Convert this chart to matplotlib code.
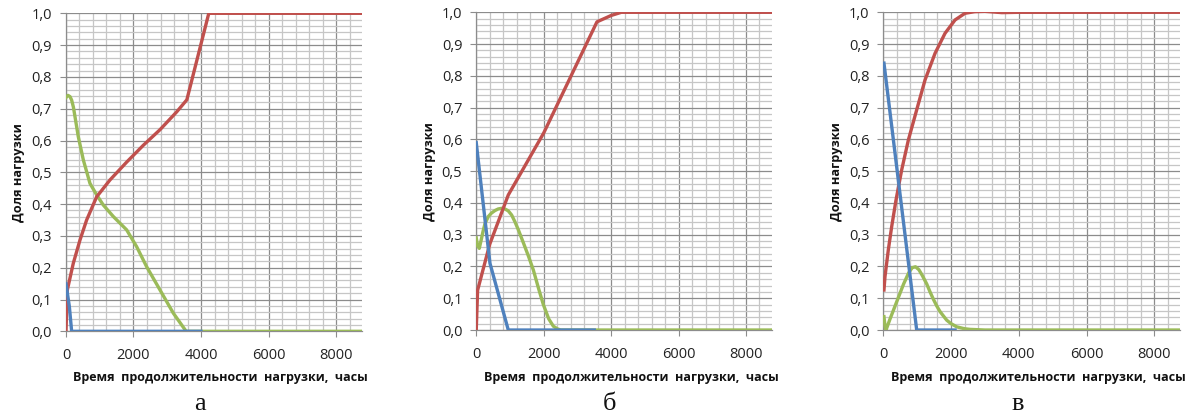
#!/usr/bin/env python3
"""Доля нагрузки vs время продолжительности нагрузки: три варианта (а, б, в)"""
import matplotlib
matplotlib.use("Agg")
import matplotlib.pyplot as plt
from matplotlib.ticker import MultipleLocator, FuncFormatter

plt.rcParams["font.family"] = ["Open Sans", "DejaVu Sans"]

RED = "#C0504D"
GREEN = "#9BBB59"
BLUE = "#4F81BD"

# --- panel а ---
red_a_x = [0, 40, 217, 415, 612, 909, 1304, 1797, 2291, 2785, 3279, 3580, 4230, 8760]
red_a_y = [0.0, 0.13, 0.214, 0.287, 0.35, 0.423, 0.476, 0.532, 0.585, 0.634, 0.69, 0.728, 1.0, 1.0]
green_a_x = [0, 60, 120, 168, 220, 267, 365, 514, 711, 909, 1106, 1402, 1797, 2094,
             2390, 2785, 3180, 3560, 8760]
green_a_y = [0.735, 0.742, 0.738, 0.727, 0.705, 0.675, 0.612, 0.539, 0.465, 0.429,
             0.397, 0.361, 0.319, 0.266, 0.203, 0.13, 0.057, 0.0, 0.0]
blue_a_x = [0, 100, 168, 4000]
blue_a_y = [0.15, 0.078, 0.0, 0.0]

# --- panel б ---
red_b_x = [0, 40, 400, 950, 2000, 3580, 4000, 4300, 8760]
red_b_y = [0.0, 0.125, 0.27, 0.425, 0.62, 0.97, 0.99, 1.0, 1.0]
green_b_x = [0, 40, 90, 150, 200, 260, 357, 450, 555, 650, 750, 850, 950, 1050, 1150,
             1250, 1396, 1550, 1693, 1850, 1990, 2150, 2287, 2400, 2500, 8760]
green_b_y = [0.29, 0.265, 0.257, 0.285, 0.31, 0.335, 0.357, 0.368, 0.376, 0.381, 0.383,
             0.381, 0.375, 0.362, 0.34, 0.315, 0.275, 0.232, 0.189, 0.13, 0.08, 0.035,
             0.012, 0.004, 0.0, 0.0]
blue_b_x = [0, 407, 950, 3500]
blue_b_y = [0.59, 0.21, 0.0, 0.0]

# --- panel в ---
red_c_x = [20, 50, 148, 247, 375, 543, 740, 986, 1232, 1528, 1823, 2119, 2414, 2700,
           3000, 3500, 4000, 8760]
red_c_y = [0.126, 0.168, 0.252, 0.325, 0.409, 0.504, 0.598, 0.693, 0.787, 0.871, 0.934,
           0.976, 0.997, 1.002, 1.003, 0.999, 1.0, 1.0]
green_c_x = [20, 50, 80, 200, 400, 600, 750, 850, 950, 1050, 1150, 1282, 1380, 1478,
             1577, 1675, 1872, 2000, 2168, 2400, 2562, 3000, 8760]
green_c_y = [0.042, 0.012, 0.0, 0.035, 0.09, 0.145, 0.18, 0.196, 0.199, 0.19, 0.172,
             0.145, 0.12, 0.097, 0.076, 0.058, 0.031, 0.02, 0.01, 0.004, 0.002, 0.0, 0.0]
blue_c_x = [20, 986, 2119]
blue_c_y = [0.84, 0.0, 0.0]

PANELS = [
    ("а", [0.0553, 0.2036, 0.2479, 0.7644],
     (red_a_x, red_a_y), (green_a_x, green_a_y), (blue_a_x, blue_a_y)),
    ("б", [0.3992, 0.2067, 0.2476, 0.7637],
     (red_b_x, red_b_y), (green_b_x, green_b_y), (blue_b_x, blue_b_y)),
    ("в", [0.7404, 0.2067, 0.2487, 0.7637],
     (red_c_x, red_c_y), (green_c_x, green_c_y), (blue_c_x, blue_c_y)),
]

fig = plt.figure(figsize=(11.93, 4.16), dpi=100, facecolor="white")

for letter, rect, red, green, blue in PANELS:
    ax = fig.add_axes(rect)
    ax.set_xlim(0, 8760)
    ax.set_ylim(0, 1.0)

    ax.xaxis.set_major_locator(MultipleLocator(2000))
    ax.xaxis.set_minor_locator(MultipleLocator(400))
    ax.yaxis.set_major_locator(MultipleLocator(0.1))
    ax.yaxis.set_minor_locator(MultipleLocator(0.02))
    ax.yaxis.set_major_formatter(FuncFormatter(lambda v, _: f"{v:.1f}".replace(".", ",")))
    ax.xaxis.set_major_formatter(FuncFormatter(lambda v, _: f"{v:.0f}"))

    ax.grid(True, which="major", color="#8c8c8c", linewidth=0.9)
    ax.grid(True, which="minor", color="#c6c6c6", linewidth=0.9)
    ax.set_axisbelow(True)

    for s in ("top", "right"):
        ax.spines[s].set_visible(False)
    for s in ("left", "bottom"):
        ax.spines[s].set_color("#8c8c8c")
        ax.spines[s].set_linewidth(0.9)
    ax.tick_params(which="major", length=4, color="#8c8c8c", labelsize=10.5,
                   labelcolor="#222222", pad=6)
    ax.tick_params(axis="x", which="major", pad=8)
    ax.tick_params(which="minor", length=0)

    ax.plot(*green, color=GREEN, lw=2.4, solid_joinstyle="round", zorder=3)
    ax.plot(*red, color=RED, lw=2.4, solid_joinstyle="round", zorder=4)
    ax.plot(*blue, color=BLUE, lw=2.4, solid_joinstyle="round", zorder=5)

    x0, y0, w, h = rect
    fig.text(x0 - 47 / 1193, y0 + h * 0.5, "Доля нагрузки", rotation=90,
             ha="center", va="center", fontsize=9.2, fontweight="bold", color="#111111")
    fig.text(x0 + w * 0.5 + 7 / 1193, 1 - 378 / 416,
             "Время  продолжительности  нагрузки,  часы",
             ha="center", va="center", fontsize=9.0, fontweight="bold", color="#111111")
    fig.text(x0 + w * 0.5 - 14 / 1193, 1 - 404 / 416, letter,
             ha="center", va="center", fontsize=19, family="Liberation Serif", color="#111111")

fig.savefig("out.png", dpi=100, facecolor="white")
